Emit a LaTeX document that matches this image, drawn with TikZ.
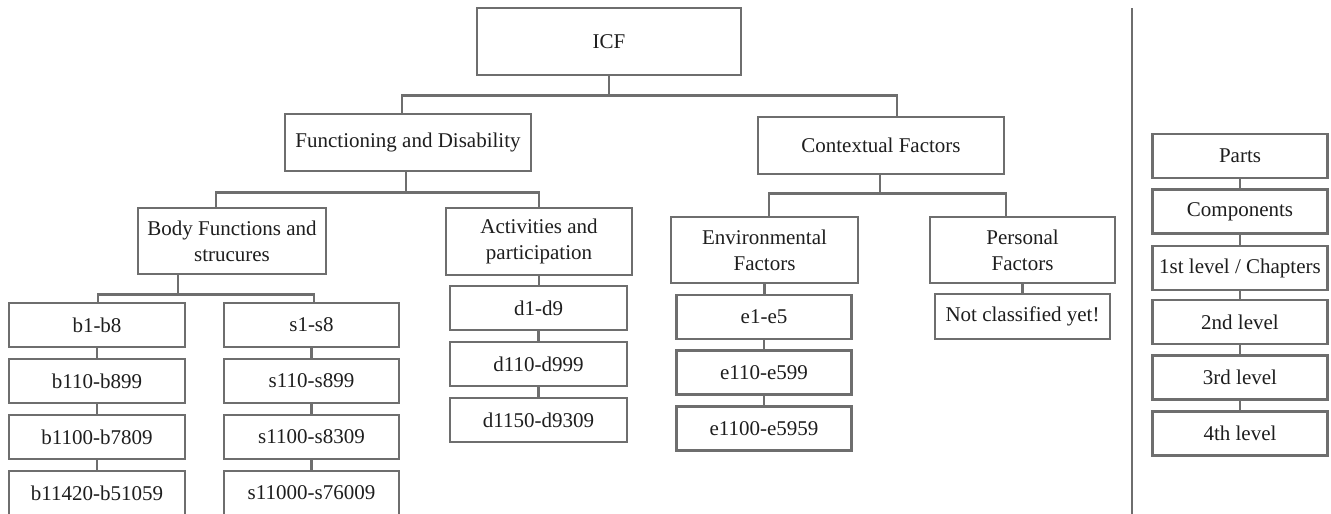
\documentclass[tikz,border=0pt]{standalone}
\usepackage{fontspec}
\setmainfont{Liberation Serif}
\usetikzlibrary{backgrounds}
\definecolor{linegray}{HTML}{6E6E6E}
\definecolor{txtgray}{HTML}{1E1E1E}
\tikzset{
  box/.style={draw=linegray, line width=2.8pt, fill=white, inner sep=0pt,
    align=center, text=txtgray, minimum height=44pt},
  conn/.style={draw=linegray, line width=2.5pt},
}
\begin{document}
\begin{tikzpicture}[x=1pt, y=-1pt, font=\fontsize{21}{26}\selectfont]
\useasboundingbox (0,0) rectangle (1331,514);
% top levels
\node[box, minimum width=264pt, minimum height=67pt] (icf) at (609,41.5) {ICF};
\node[box, minimum width=246pt, minimum height=57pt] (fd) at (408,142.5) {Functioning and Disability};
\node[box, minimum width=246pt, minimum height=57pt] (cf) at (881,145.5) {Contextual Factors};
\node[box, minimum width=188pt, minimum height=66pt] (body) at (232,241) {Body Functions and\\strucures};
\node[box, minimum width=186pt, minimum height=67pt] (act) at (539,241.5) {Activities and\\participation};
\node[box, minimum width=187pt, minimum height=66pt] (env) at (764.5,250) {Environmental\\Factors};
\node[box, minimum width=185pt, minimum height=66pt] (pers) at (1022.5,250) {Personal\\Factors};
% b column
\node[box, minimum width=176pt] (b1) at (97,325) {b1-b8};
\node[box, minimum width=176pt] (b2) at (97,381) {b110-b899};
\node[box, minimum width=176pt] (b3) at (97,437) {b1100-b7809};
\node[box, minimum width=176pt] (b4) at (97,493) {b11420-b51059};
% s column
\node[box, minimum width=175pt] (s1) at (311.5,325) {s1-s8};
\node[box, minimum width=175pt] (s2) at (311.5,381) {s110-s899};
\node[box, minimum width=175pt] (s3) at (311.5,437) {s1100-s8309};
\node[box, minimum width=175pt] (s4) at (311.5,493) {s11000-s76009};
% d column
\node[box, minimum width=177pt] (d1) at (538.5,308) {d1-d9};
\node[box, minimum width=177pt] (d2) at (538.5,364) {d110-d999};
\node[box, minimum width=177pt] (d3) at (538.5,420) {d1150-d9309};
% e column
\node[box, minimum width=175pt] (e1) at (764,317) {e1-e5};
\node[box, minimum width=175pt] (e2) at (764,372.5) {e110-e599};
\node[box, minimum width=175pt] (e3) at (764,428.5) {e1100-e5959};
% personal
\node[box, minimum width=175pt, minimum height=45pt] (nc) at (1022.5,316.5) {Not classified yet!};
% legend column
\node[box, minimum width=175pt] (r1) at (1240,156) {Parts};
\node[box, minimum width=175pt] (r2) at (1240,211.5) {Components};
\node[box, minimum width=175pt] (r3) at (1240,268) {1st level / Chapters};
\node[box, minimum width=175pt] (r4) at (1240,322) {2nd level};
\node[box, minimum width=175pt] (r5) at (1240,377.5) {3rd level};
\node[box, minimum width=175pt] (r6) at (1240,433.5) {4th level};
% separator
\coordinate (septop) at (1132,8);
\coordinate (sepbot) at (1132,514);
\draw[conn] (septop) -- (sepbot);
% connectors
\begin{scope}[on background layer]
\draw[conn] (icf.south) -- ++(0,19) -| ([xshift=-6pt]fd.north);
\draw[conn] (icf.south) -- ++(0,19) -| ([xshift=16pt]cf.north);
\draw[conn] ([xshift=-2pt]fd.south) -- ++(0,20) -| ([xshift=-16pt]body.north);
\draw[conn] ([xshift=-2pt]fd.south) -- ++(0,20) -| (act.north);
\draw[conn] ([xshift=-1pt]cf.south) -- ++(0,18) -| ([xshift=4.5pt]env.north);
\draw[conn] ([xshift=-1pt]cf.south) -- ++(0,18) -| ([xshift=-16.5pt]pers.north);
\draw[conn] ([xshift=-54pt]body.south) -- ++(0,19) -| ([xshift=1pt]b1.north);
\draw[conn] ([xshift=-54pt]body.south) -- ++(0,19) -| ([xshift=2.5pt]s1.north);
\draw[conn] (act.south) -- (act.south |- d1.north);
\draw[conn] (env.south) -- (env.south |- e1.north);
\draw[conn] (pers.south) -- (nc.north);
\draw[conn] (b1) -- (b2); \draw[conn] (b2) -- (b3); \draw[conn] (b3) -- (b4);
\draw[conn] (s1) -- (s2); \draw[conn] (s2) -- (s3); \draw[conn] (s3) -- (s4);
\draw[conn] (d1) -- (d2); \draw[conn] (d2) -- (d3);
\draw[conn] (e1) -- (e2); \draw[conn] (e2) -- (e3);
\draw[conn] (r1) -- (r2); \draw[conn] (r2) -- (r3); \draw[conn] (r3) -- (r4);
\draw[conn] (r4) -- (r5); \draw[conn] (r5) -- (r6);
\end{scope}
\end{tikzpicture}
\end{document}
